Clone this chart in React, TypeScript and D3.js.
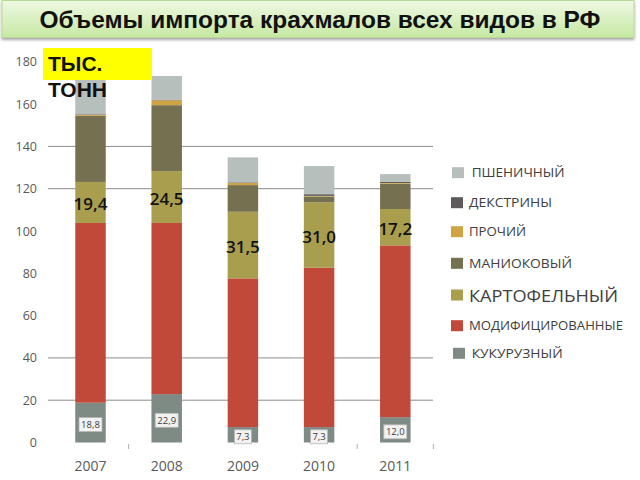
import React from 'react';
import * as d3 from 'd3';

const years = ['2007', '2008', '2009', '2010', '2011'];
const corn = [18.8, 22.9, 7.3, 7.3, 12.0];
const modified = [85.0, 80.9, 70.3, 75.3, 81.2];
const potato = [19.4, 24.5, 31.5, 31.0, 17.2];
const manioc = [31.3, 31.2, 12.6, 2.7, 12.0];
const other = [0.4, 2.3, 1.0, 0.3, 0.3];
const dextrins = [0.3, 0.3, 0.3, 0.8, 0.5];
const wheat = [20.8, 11.2, 11.8, 13.3, 3.7];

const seriesKeys = ['corn', 'modified', 'potato', 'manioc', 'other', 'dextrins', 'wheat'];
const seriesNames = ['КУКУРУЗНЫЙ', 'МОДИФИЦИРОВАННЫЕ', 'КАРТОФЕЛЬНЫЙ', 'МАНИОКОВЫЙ', 'ПРОЧИЙ', 'ДЕКСТРИНЫ', 'ПШЕНИЧНЫЙ'];
const seriesColors = ['#7e8a84', '#c0493a', '#a99d4e', '#757050', '#d1a443', '#5e5a5c', '#b7bfbd'];
const yTicks = [0, 20, 40, 60, 80, 100, 120, 140, 160, 180];
const gridValues = [20, 40, 120, 140];
const title = 'Объемы импорта крахмалов всех видов в РФ';
const unitLines = ['ТЫС.', 'ТОНН'];

const rows = years.map((y, i) => ({
  year: y,
  corn: corn[i],
  modified: modified[i],
  potato: potato[i],
  manioc: manioc[i],
  other: other[i],
  dextrins: dextrins[i],
  wheat: wheat[i],
}));

// legend: top to bottom order (reverse of stack)
const legendOrder = [6, 5, 4, 3, 2, 1, 0];
const legendY = [172.7, 202.7, 231.7, 263.3, 295, 325.7, 353.3];
const legendWidths = [93, 83, 57, 103, 149, 154, 91];
const legendFont = [12.5, 12.5, 12.5, 12.5, 16.5, 12.5, 12.5];
const legendTextX = [471.7, 469, 469, 469, 469, 469, 471.7];
const legendSqX = [452, 451, 451, 451, 451, 451, 453];

export default function App() {
  const x = d3.scaleBand<string>().domain(years).range([52.4, 433.4]).paddingInner(0.6).paddingOuter(0.3);
  const y = d3.scaleLinear().domain([0, 180]).range([442.5, 61.8]);
  const stack = d3.stack<any>().keys(seriesKeys);
  const stacked = stack(rows);
  const bw = x.bandwidth();
  const fontAxis = '"Open Sans", sans-serif';

  const boundaries = [1, 4, 5].map((k) => x.range()[0] + k * x.step());

  return (
    <svg width={640} height={480} style={{ position: 'absolute', left: 0, top: 0, background: '#fff' }}>
      <defs>
        <linearGradient id="ban" x1="0" y1="0" x2="0" y2="1">
          <stop offset="0" stopColor="#eff9e4" />
          <stop offset="1" stopColor="#c6e8a2" />
        </linearGradient>
        <filter id="sh" x="-5%" y="-20%" width="110%" height="160%">
          <feGaussianBlur in="SourceAlpha" stdDeviation="1.5" />
          <feOffset dy="2" />
          <feComponentTransfer>
            <feFuncA type="linear" slope="0.35" />
          </feComponentTransfer>
          <feMerge>
            <feMergeNode />
            <feMergeNode in="SourceGraphic" />
          </feMerge>
        </filter>
      </defs>
      <rect x={0} y={0} width={640} height={480} fill="#fff" />
      {/* title banner */}
      <rect x={2} y={0.5} width={632} height={37} fill="url(#ban)" stroke="#b6da93" strokeWidth={1} filter="url(#sh)" />
      <text
        x={320}
        y={28}
        textAnchor="middle"
        fontFamily='"Liberation Sans", Arial, sans-serif'
        fontWeight="bold"
        fontSize={23}
        fill="#111"
        textLength={561}
        lengthAdjust="spacingAndGlyphs"
      >
        {title}
      </text>

      {/* gridlines */}
      {gridValues.map((g) => (
        <line key={g} x1={48} x2={433} y1={y(g)} y2={y(g)} stroke="#8c8c8c" strokeWidth={1} />
      ))}
      {/* small category ticks */}
      {boundaries.map((b, i) => (
        <line key={i} x1={b} x2={b} y1={444} y2={449} stroke="#b0b0b0" strokeWidth={1} />
      ))}

      {/* y tick labels */}
      {yTicks.map((t) => (
        <text
          key={t}
          x={37}
          y={y(t)}
          textAnchor="end"
          dominantBaseline="central"
          fontFamily={fontAxis}
          fontSize={12.5}
          fill="#595959"
        >
          {t}
        </text>
      ))}

      {/* x labels */}
      {years.map((yr) => (
        <text
          key={yr}
          x={(x(yr) as number) + bw / 2}
          y={470.5}
          textAnchor="middle"
          fontFamily={fontAxis}
          fontSize={14}
          fill="#595959"
        >
          {yr}
        </text>
      ))}

      {/* bars */}
      {stacked.map((s, si) => (
        <g key={s.key} fill={seriesColors[si]}>
          {s.map((d, i) => (
            <rect
              key={i}
              x={x(years[i]) as number}
              y={y(d[1])}
              width={bw}
              height={Math.max(0, y(d[0]) - y(d[1]))}
            />
          ))}
        </g>
      ))}

      {/* corn value labels */}
      {stacked[0].map((d, i) => {
        const cx = (x(years[i]) as number) + bw / 2;
        const cy = Math.min((y(d[0]) + y(d[1])) / 2 + 2, 437);
        const label = d3.format('.1f')(corn[i]).replace('.', ',');
        const w = label.length > 3 ? 23 : 17;
        return (
          <g key={i}>
            <rect x={cx - w / 2} y={cy - 7} width={w} height={14} fill="#f2f2f2" stroke="#b5b5b5" strokeWidth={0.8} />
            <text
              x={cx}
              y={cy}
              textAnchor="middle"
              dominantBaseline="central"
              fontFamily={fontAxis}
              fontSize={9.5}
              fill="#404040"
            >
              {label}
            </text>
          </g>
        );
      })}

      {/* potato value labels */}
      {stacked[2].map((d, i) => {
        const cx = (x(years[i]) as number) + bw / 2;
        const cy = (y(d[0]) + y(d[1])) / 2 + 1;
        const label = d3.format('.1f')(potato[i]).replace('.', ',');
        return (
          <text
            key={i}
            x={cx}
            y={cy}
            textAnchor="middle"
            dominantBaseline="central"
            fontFamily={fontAxis}
            fontWeight={600}
            fontSize={17}
            fill="#111"
          >
            {label}
          </text>
        );
      })}

      {/* unit label */}
      <rect x={43} y={48} width={109} height={32} fill="#ffff00" />
      <text x={48} y={71} fontFamily='"Liberation Sans", Arial, sans-serif' fontWeight="bold" fontSize={21} fill="#111">
        {unitLines[0]}
      </text>
      <text x={48} y={97} fontFamily='"Liberation Sans", Arial, sans-serif' fontWeight="bold" fontSize={21} fill="#111">
        {unitLines[1]}
      </text>

      {/* legend */}
      {legendOrder.map((si, k) => (
        <g key={si}>
          <rect x={legendSqX[k]} y={legendY[k] - 5.5} width={12} height={11} fill={seriesColors[si]} />
          <text
            x={legendTextX[k]}
            y={legendY[k]}
            dominantBaseline="central"
            fontFamily={fontAxis}
            fontSize={legendFont[k]}
            fill="#404040"
            textLength={legendWidths[k]}
            lengthAdjust="spacingAndGlyphs"
          >
            {seriesNames[si]}
          </text>
        </g>
      ))}
    </svg>
  );
}
